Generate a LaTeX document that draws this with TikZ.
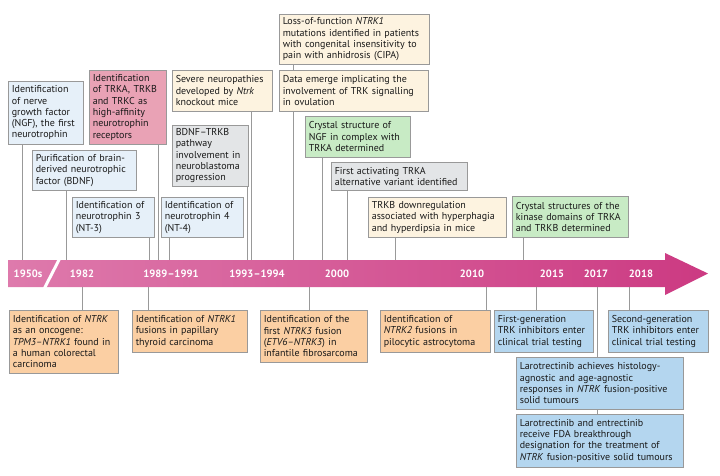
\documentclass[tikz,border=0pt]{standalone}
\usepackage{fontspec}
\setmainfont{PT Sans}
\usepackage{tikz}
\usepackage{xcolor}
\definecolor{cblue}{HTML}{E6F0F9}
\definecolor{cpink}{HTML}{E9A2B5}
\definecolor{ccream}{HTML}{FDF3E0}
\definecolor{cgray}{HTML}{E3E5E7}
\definecolor{cgreen}{HTML}{C8EBC5}
\definecolor{corange}{HTML}{FBCFA3}
\definecolor{cblueb}{HTML}{B4D6EF}
\definecolor{cline}{HTML}{999999}
\definecolor{cbarl}{HTML}{DE7AAC}
\definecolor{cbarr}{HTML}{CC3A82}
\def\it{\textit}

\begin{document}
\begin{tikzpicture}[x=1pt,y=-1pt,
  box/.style={draw=cline, line width=0.6pt, anchor=north west, align=left,
    inner xsep=3.5pt, inner ysep=1.5pt, text=black!90,
    font=\fontsize{10}{11.3}\selectfont},
  link/.style={draw=cline, line width=0.6pt},
  yr/.style={text=white, font=\fontsize{10.6}{12}\selectfont\bfseries}]
\useasboundingbox (0,0) rectangle (720,476);
%timeline bar
\shade[left color=cbarl, right color=cbarr] (8,260) -- (665,260) -- (665,253)
  -- (708,273.5) -- (665,295) -- (665,287) -- (8,287) -- cycle;
\draw[white, line width=3pt] (62,254) -- (42,293);
%years
\node[yr] (y1950) at (28,273.5) {1950s};
\node[yr] (y1982) at (82,273.5) {1982};
\node[yr] (y1989) at (171,273.5) {1989–1991};
\node[yr] (y1993) at (257,273.5) {1993–1994};
\node[yr] (y2000) at (337,273.5) {2000};
\node[yr] (y2010) at (472,273.5) {2010};
\node[yr] (y2015) at (552,273.5) {2015};
\node[yr] (y2017) at (596,273.5) {2017};
\node[yr] (y2018) at (641,273.5) {2018};

%put boxes
%above the bar
\node[box, fill=cblue, text width=68pt, minimum height=63pt] (ngf) at (8,81)
  {Identification\\of nerve\\growth factor\\(NGF), the first\\neurotrophin};
\node[box, fill=cpink, text width=70pt, minimum height=74pt] (trk) at (89,70)
  {Identification\\of TRKA, TRKB\\and TRKC as\\high-affinity\\neurotrophin\\receptors};
\node[box, fill=ccream, text width=93pt, minimum height=41pt] (ko) at (172,70)
  {Severe neuropathies\\developed by \it{Ntrk}\\knockout mice};
\node[box, fill=ccream, text width=143pt, minimum height=50pt] (cipa) at (279,14)
  {Loss-of-function \it{NTRK1}\\mutations identified in patients\\with congenital insensitivity to\\pain with anhidrosis (CIPA)};
\node[box, fill=ccream, text width=142pt, minimum height=41pt] (ovul) at (279,70)
  {Data emerge implicating the\\involvement of TRK signalling\\in ovulation};
\node[box, fill=cblue, text width=97pt, minimum height=40pt] (bdnf) at (32,150)
  {Purification of brain-\\derived neurotrophic\\factor (BDNF)};
\node[box, fill=cgray, text width=69pt, minimum height=61pt] (nbl) at (172,125)
  {BDNF–TRKB\\pathway\\involvement in\\neuroblastoma\\progression};
\node[box, fill=cgreen, text width=98pt, minimum height=41pt] (ngfx) at (305,116)
  {Crystal structure of\\NGF in complex with\\TRKA determined};
\node[box, fill=cgray, text width=129pt, minimum height=28pt] (var) at (331,162)
  {First activating TRKA\\alternative variant identified};
\node[box, fill=cblue, text width=75pt, minimum height=40pt] (nt3) at (72,197)
  {Identification of\\neurotrophin 3\\(NT-3)};
\node[box, fill=cblue, text width=75pt, minimum height=40pt] (nt4) at (161,197)
  {Identification of\\neurotrophin 4\\(NT-4)};
\node[box, fill=ccream, text width=131pt, minimum height=40pt] (hyp) at (368,197)
  {TRKB downregulation\\associated with hyperphagia\\and hyperdipsia in mice};
\node[box, fill=cgreen, text width=109pt, minimum height=41pt] (kin) at (512,196)
  {Crystal structures of the\\kinase domains of TRKA\\and TRKB determined};
%below the bar
\node[box, fill=corange, text width=102pt, minimum height=63pt] (onco) at (9,310)
  {Identification of \it{NTRK}\\as an oncogene:\\\it{TPM3–NTRK1} found in\\a human colorectal\\carcinoma};
\node[box, fill=corange, text width=108pt, minimum height=42pt] (thy) at (132,310)
  {Identification of \it{NTRK1}\\fusions in papillary\\thyroid carcinoma};
\node[box, fill=corange, text width=100pt, minimum height=52pt] (etv) at (260,310)
  {Identification of the\\first \it{NTRK3} fusion\\(\it{ETV6–NTRK3}) in\\infantile fibrosarcoma};
\node[box, fill=corange, text width=103pt, minimum height=42pt] (pilo) at (380,310)
  {Identification of\\\it{NTRK2} fusions in\\pilocytic astrocytoma};
\node[box, fill=cblueb, text width=92pt, minimum height=42pt] (gen1) at (494,310)
  {First-generation\\TRK inhibitors enter\\clinical trial testing};
\node[box, fill=cblueb, text width=93pt, minimum height=42pt] (gen2) at (608,310)
  {Second-generation\\TRK inhibitors enter\\clinical trial testing};
\node[box, fill=cblueb, text width=160pt, minimum height=52pt] (laro) at (516,357)
  {Larotrectinib achieves histology-\\agnostic and age-agnostic\\responses in \it{NTRK} fusion-positive\\solid tumours};
\node[box, fill=cblueb, text width=160pt, minimum height=53pt] (fda) at (516,414)
  {Larotrectinib and entrectinib\\receive FDA breakthrough\\designation for the treatment of\\\it{NTRK} fusion-positive solid tumours};

%links
%top of the bar
\coordinate (a1) at (22,260);
\coordinate (a2) at (66,260);
\coordinate (a3) at (149,260);
\coordinate (a4) at (158,260);
\coordinate (a5) at (169,260);
\coordinate (a6) at (247,260);
\coordinate (a7) at (251,260);
\coordinate (a8) at (293,260);
\coordinate (a9) at (322,260);
\coordinate (a10) at (347,260);
\coordinate (a11) at (395,260);
\coordinate (a12) at (523,260);
\draw[link] (ngf.south -| a1) -- (a1);
\draw[link] (bdnf.south -| a2) -- (a2);
\draw[link] (nt3.south -| a3) -- (a3);
\draw[link] (trk.south -| a4) -- (a4);
\draw[link] (nt4.south -| a5) -- (a5);
\draw[link] (nbl.south -| a6) -- (a6);
\draw[link] (ko.south -| a7) -- (a7);
\draw[link] (cipa.south -| a8) -- (ovul.north -| a8);
\draw[link] (ovul.south -| a8) -- (a8);
\draw[link] (ngfx.south -| a9) -- (a9);
\draw[link] (var.south -| a10) -- (a10);
\draw[link] (hyp.south -| a11) -- (a11);
\draw[link] (kin.south -| a12) -- (a12);
%bottom of the bar
\coordinate (b1) at (82,287);
\coordinate (b2) at (148,287);
\coordinate (b3) at (309,287);
\coordinate (b4) at (486,287);
\coordinate (b5) at (536,287);
\coordinate (b6) at (597,287);
\coordinate (b7) at (629,287);
\draw[link] (b1) -- (onco.north -| b1);
\draw[link] (b2) -- (thy.north -| b2);
\draw[link] (b3) -- (etv.north -| b3);
\draw[link] (b4) -- (pilo.north -| b4);
\draw[link] (b5) -- (gen1.north -| b5);
\draw[link] (b6) -- (laro.north -| b6);
\draw[link] (laro.south -| b6) -- (fda.north -| b6);
\draw[link] (b7) -- (gen2.north -| b7);
\end{tikzpicture}
\end{document}
